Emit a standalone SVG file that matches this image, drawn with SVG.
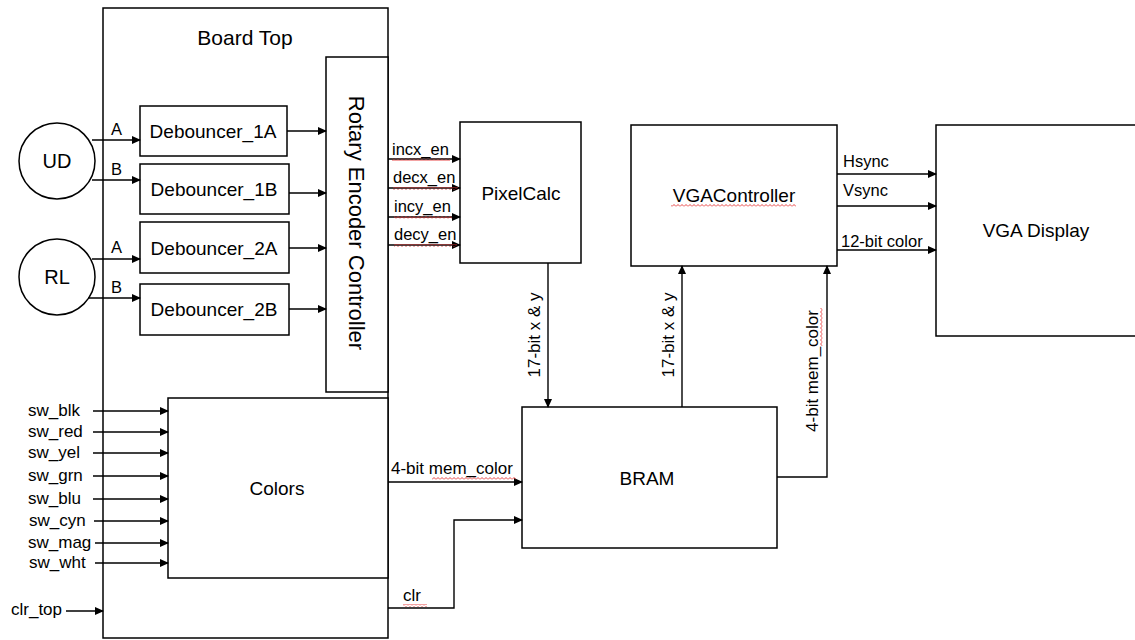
<svg xmlns="http://www.w3.org/2000/svg" width="1135" height="640" viewBox="0 0 1135 640">
<style>
.box{fill:#fff;stroke:#000;stroke-width:1.5}
.ln{fill:none;stroke:#000;stroke-width:1.4}
.t{font-family:"Liberation Sans",Arial,sans-serif;fill:#000}
.big{font-size:19px}
.sm{font-size:16.5px}
.sw{font-size:17px}
.sq{fill:url(#sqp)}
</style>
<defs>
<marker id="ar" markerWidth="9" markerHeight="8" refX="8" refY="4" orient="auto" markerUnits="userSpaceOnUse">
<path d="M0,0 L9,4 L0,8 Z" fill="#000"/>
</marker>
<pattern id="sqp" width="4" height="3" patternUnits="userSpaceOnUse">
<path d="M0,2.5 L2,0.5 L4,2.5" fill="none" stroke="#e53030" stroke-width="0.9"/>
</pattern>
</defs>

<g id="board-top">
<rect class="box" x="103" y="8" width="285" height="630"/>
<text class="t" x="245" y="45" font-size="21" text-anchor="middle">Board Top</text>
</g>

<g id="rotary-encoder">
<rect class="box" x="326" y="57" width="62" height="335"/>
<text class="t" font-size="22" text-anchor="middle" transform="translate(349,223) rotate(90)">Rotary Encoder Controller</text>
</g>

<g id="ud">
<circle class="box" cx="57" cy="161" r="38"/>
<text class="t" x="57" y="168" font-size="20" text-anchor="middle">UD</text>
</g>
<g id="rl">
<circle class="box" cx="57" cy="277" r="38"/>
<text class="t" x="57" y="284" font-size="20" text-anchor="middle">RL</text>
</g>

<g id="deb1a"><rect class="box" x="140" y="106" width="147" height="50"/><text class="t big" x="213" y="138" text-anchor="middle">Debouncer_1A</text></g>
<g id="deb1b"><rect class="box" x="140" y="164" width="149" height="50"/><text class="t big" x="214" y="196" text-anchor="middle">Debouncer_1B</text></g>
<g id="deb2a"><rect class="box" x="140" y="222" width="149" height="51"/><text class="t big" x="214" y="255" text-anchor="middle">Debouncer_2A</text></g>
<g id="deb2b"><rect class="box" x="140" y="284" width="149" height="51"/><text class="t big" x="214" y="316" text-anchor="middle">Debouncer_2B</text></g>

<g id="pixelcalc"><rect class="box" x="460" y="122" width="121" height="141"/><text class="t big" x="521" y="200" text-anchor="middle">PixelCalc</text></g>

<g id="vgacontroller"><rect class="box" x="631" y="125" width="206" height="141"/><text class="t big" x="734" y="202" text-anchor="middle">VGAController</text><rect class="sq" x="671" y="204" width="125" height="3"/></g>

<g id="vga-display"><rect class="box" x="936" y="125" width="205" height="211"/><text class="t big" x="1036" y="237" text-anchor="middle">VGA Display</text></g>

<g id="bram"><rect class="box" x="522" y="407" width="255" height="141"/><text class="t big" x="647" y="485" text-anchor="middle">BRAM</text></g>

<g id="colors"><rect class="box" x="168" y="398" width="220" height="180"/><text class="t big" x="277" y="495" text-anchor="middle">Colors</text></g>

<g id="connectors">
<path class="ln" d="M92,140 H140" marker-end="url(#ar)"/>
<path class="ln" d="M92,180 H140" marker-end="url(#ar)"/>
<path class="ln" d="M92,259 H140" marker-end="url(#ar)"/>
<path class="ln" d="M88,298 H140" marker-end="url(#ar)"/>
<path class="ln" d="M287,131 H326" marker-end="url(#ar)"/>
<path class="ln" d="M289,193 H326" marker-end="url(#ar)"/>
<path class="ln" d="M289,248 H326" marker-end="url(#ar)"/>
<path class="ln" d="M289,309 H326" marker-end="url(#ar)"/>
<path class="ln" d="M388,159 H460" marker-end="url(#ar)"/>
<path class="ln" d="M388,188 H460" marker-end="url(#ar)"/>
<path class="ln" d="M388,217 H460" marker-end="url(#ar)"/>
<path class="ln" d="M388,245 H460" marker-end="url(#ar)"/>
<path class="ln" d="M837,174 H936" marker-end="url(#ar)"/>
<path class="ln" d="M837,206 H936" marker-end="url(#ar)"/>
<path class="ln" d="M837,250 H936" marker-end="url(#ar)"/>
<path class="ln" d="M548,263 V407" marker-end="url(#ar)"/>
<path class="ln" d="M682,407 V266" marker-end="url(#ar)"/>
<path class="ln" d="M777,477 H827 V266" marker-end="url(#ar)"/>
<path class="ln" d="M388,482 H522" marker-end="url(#ar)"/>
<path class="ln" d="M388,608 H454 V520 H522" marker-end="url(#ar)"/>
<path class="ln" d="M93,411 H168" marker-end="url(#ar)"/>
<path class="ln" d="M93,432 H168" marker-end="url(#ar)"/>
<path class="ln" d="M93,453 H168" marker-end="url(#ar)"/>
<path class="ln" d="M93,476 H168" marker-end="url(#ar)"/>
<path class="ln" d="M93,499 H168" marker-end="url(#ar)"/>
<path class="ln" d="M94,521 H168" marker-end="url(#ar)"/>
<path class="ln" d="M95,543 H168" marker-end="url(#ar)"/>
<path class="ln" d="M95,563 H168" marker-end="url(#ar)"/>
<path class="ln" d="M66,611 H103" marker-end="url(#ar)"/>
</g>

<g id="labels">
<text class="t sm" x="111" y="135">A</text>
<text class="t sm" x="111" y="175">B</text>
<text class="t sm" x="111" y="253">A</text>
<text class="t sm" x="111" y="293">B</text>
<text class="t sm" x="392" y="155">incx_en</text>
<text class="t sm" x="393" y="183">decx_en</text>
<text class="t sm" x="394" y="212">incy_en</text>
<text class="t sm" x="394" y="240">decy_en</text>
<rect class="sq" x="392" y="158" width="58" height="3"/>
<rect class="sq" x="393" y="187" width="65" height="3"/>
<rect class="sq" x="394" y="216" width="58" height="3"/>
<rect class="sq" x="394" y="244" width="63" height="3"/>
<text class="t sm" x="843" y="167">Hsync</text>
<text class="t sm" x="843" y="196">Vsync</text>
<text class="t sm" x="841" y="247">12-bit color</text>
<text class="t sw" text-anchor="middle" transform="translate(540,335) rotate(-90)">17-bit x &amp; y</text>
<text class="t sw" text-anchor="middle" transform="translate(674,335) rotate(-90)">17-bit x &amp; y</text>
<text class="t sw" text-anchor="middle" transform="translate(818,371) rotate(-90)">4-bit mem_color</text>
<rect class="sq" transform="translate(820,346) rotate(-90)" x="0" y="0" width="38" height="3"/>
<text class="t sw" x="391" y="474">4-bit mem_color</text>
<rect class="sq" x="432" y="477" width="84" height="3"/>
<text class="t sw" x="403" y="601">clr</text>
<rect class="sq" x="403" y="604" width="24" height="3"/>
<text class="t sw" x="28" y="416">sw_blk</text>
<text class="t sw" x="28" y="437">sw_red</text>
<text class="t sw" x="28" y="458">sw_yel</text>
<text class="t sw" x="28" y="481">sw_grn</text>
<text class="t sw" x="28" y="504">sw_blu</text>
<text class="t sw" x="29" y="526">sw_cyn</text>
<text class="t sw" x="28" y="548">sw_mag</text>
<text class="t sw" x="29" y="568">sw_wht</text>
<text class="t sw" x="11" y="615">clr_top</text>
</g>
</svg>
